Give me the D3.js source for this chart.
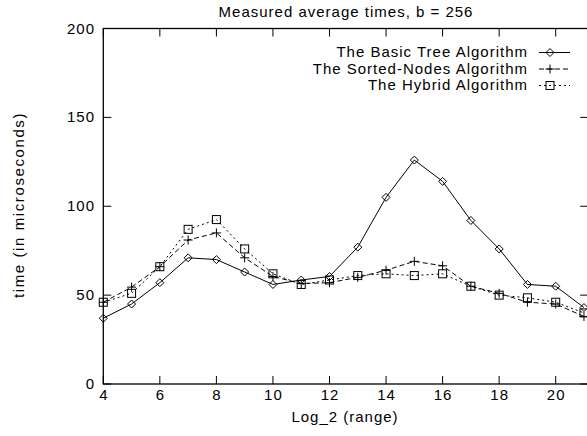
<!DOCTYPE html>
<html>
<head>
<meta charset="utf-8">
<title>Measured average times</title>
<style>
  body { margin: 0; overflow: hidden; background: #fff; }
  svg { display: block; font-family: "Liberation Sans", Arial, sans-serif; }
  text { fill: #000; letter-spacing: 1px; }
</style>
</head>
<body>
<div id="chart"></div>
<script src="https://d3js.org/d3.v7.min.js"></script>
<script>
// log2(range) values
var xs = [4, 5, 6, 7, 8, 9, 10, 11, 12, 13, 14, 15, 16, 17, 18, 19, 20, 21];
// times in microseconds
var basicTree   = [37, 45, 57, 71, 70, 63, 56, 58.5, 60.5, 77, 105, 126, 114, 92, 76, 56, 55, 43];
var sortedNodes = [46, 54.5, 66, 81, 85, 71, 60.5, 56.5, 57, 60, 64, 69, 66.5, 55, 51, 46, 45, 38];
var hybrid      = [46, 51, 66, 87, 92.5, 76, 62, 56, 58.5, 61, 62, 61, 62, 55, 50, 48.5, 46, 40];

var seriesNames = ["The Basic Tree Algorithm", "The Sorted-Nodes Algorithm", "The Hybrid Algorithm"];
var xTicks = [4, 6, 8, 10, 12, 14, 16, 18, 20];
var yTicks = [0, 50, 100, 150, 200];

var series = [
  {name: seriesNames[0], values: basicTree,   dash: null,  marker: "diamond"},
  {name: seriesNames[1], values: sortedNodes, dash: "5,3", marker: "plus"},
  {name: seriesNames[2], values: hybrid,      dash: "2,3", marker: "square"}
];

var W = 620, H = 436;
var plotLeft = 103.3, plotTop = 28.5, plotBottom = 384;
var fs = 15;

var x = d3.scaleLinear().domain([4, 20]).range([plotLeft, 555.7]);
var plotRight = x(21.15);
var y = d3.scaleLinear().domain([0, 200]).range([plotBottom, plotTop]);

var svg = d3.select("#chart").append("svg")
  .attr("width", W).attr("height", H);

// border
svg.append("rect")
  .attr("x", plotLeft).attr("y", plotTop)
  .attr("width", plotRight - plotLeft).attr("height", plotBottom - plotTop)
  .attr("fill", "none").attr("stroke", "#000").attr("stroke-width", 1.3);

var tl = 8;
// x ticks (bottom + mirrored top)
xTicks.forEach(function(t) {
  svg.append("line").attr("x1", x(t)).attr("x2", x(t)).attr("y1", plotBottom).attr("y2", plotBottom - tl)
    .attr("stroke", "#000");
  svg.append("line").attr("x1", x(t)).attr("x2", x(t)).attr("y1", plotTop).attr("y2", plotTop + tl)
    .attr("stroke", "#000");
  svg.append("text").attr("x", x(t) + 0.5).attr("y", 400)
    .attr("text-anchor", "middle").attr("font-size", fs).text(t);
});
// y ticks (left + mirrored right)
yTicks.forEach(function(t) {
  svg.append("line").attr("x1", plotLeft).attr("x2", plotLeft + tl).attr("y1", y(t)).attr("y2", y(t))
    .attr("stroke", "#000");
  svg.append("line").attr("x1", plotRight).attr("x2", plotRight - tl).attr("y1", y(t)).attr("y2", y(t))
    .attr("stroke", "#000");
  svg.append("text").attr("x", 95).attr("y", y(t)).attr("dy", "0.34em")
    .attr("text-anchor", "end").attr("font-size", fs).text(t);
});

// titles
svg.append("text").attr("x", 346).attr("y", 17).attr("text-anchor", "middle")
  .attr("font-size", fs).text("Measured average times, b = 256");
svg.append("text").attr("x", 345).attr("y", 422).attr("text-anchor", "middle")
  .attr("font-size", fs).text("Log_2 (range)");
svg.append("text").attr("transform", "translate(24,205) rotate(-90)")
  .attr("text-anchor", "middle").attr("font-size", fs)
  .style("letter-spacing", "1.6px").text("time (in microseconds)");

function drawMarker(g, kind, cx, cy) {
  if (kind === "diamond") {
    g.append("path").attr("d", "M" + (cx - 4) + "," + cy + "L" + cx + "," + (cy - 4) +
      "L" + (cx + 4) + "," + cy + "L" + cx + "," + (cy + 4) + "Z")
      .attr("fill", "none").attr("stroke", "#000").attr("stroke-width", 1);
  } else if (kind === "plus") {
    g.append("path").attr("d", "M" + (cx - 4.5) + "," + cy + "H" + (cx + 4.5) +
      "M" + cx + "," + (cy - 4.5) + "V" + (cy + 4.5))
      .attr("stroke", "#000").attr("stroke-width", 1);
  } else {
    g.append("rect").attr("x", cx - 4).attr("y", cy - 4).attr("width", 8).attr("height", 8)
      .attr("fill", "none").attr("stroke", "#000").attr("stroke-width", 1);
  }
}

var line = d3.line().x(function(d) { return x(d[0]); }).y(function(d) { return y(d[1]); });

series.forEach(function(s, i) {
  var g = svg.append("g");
  var pts = xs.map(function(v, j) { return [v, s.values[j]]; });
  g.append("path").datum(pts).attr("d", line)
    .attr("fill", "none").attr("stroke", "#000").attr("stroke-width", 1)
    .attr("stroke-dasharray", s.dash);
  pts.forEach(function(p) { drawMarker(g, s.marker, x(p[0]), y(p[1])); });

  // legend
  var ly = 52.5 + i * 16.5;
  svg.append("text").attr("x", 528).attr("y", ly).attr("dy", "0.32em")
    .attr("text-anchor", "end").attr("font-size", fs).text(s.name);
  svg.append("line").attr("x1", 539).attr("x2", 570).attr("y1", ly).attr("y2", ly)
    .attr("stroke", "#000").attr("stroke-width", 1).attr("stroke-dasharray", s.dash);
  drawMarker(svg, s.marker, 550, ly);
});
</script>
</body>
</html>
